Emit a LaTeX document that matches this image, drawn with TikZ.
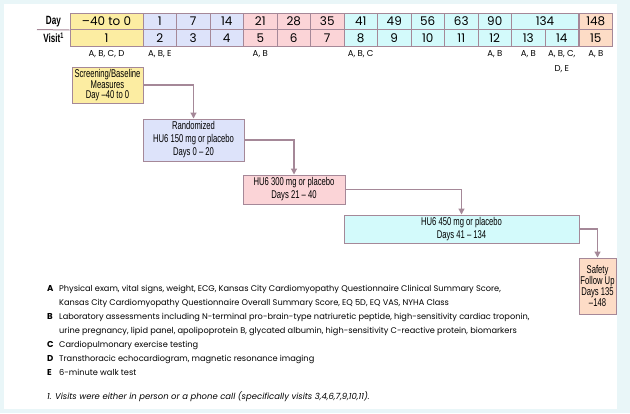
\documentclass[tikz,border=0pt]{standalone}
\usepackage{fontspec}
\setmainfont{Poppins}
\newfontfamily\condfont[FakeStretch=0.68]{Liberation Sans}
\usetikzlibrary{arrows.meta,positioning}
\definecolor{panelbg}{HTML}{E9F6F8}
\definecolor{frameline}{HTML}{A58898}
\definecolor{screenfill}{HTML}{FCEDA2}
\definecolor{lowfill}{HTML}{DDE3FA}
\definecolor{midfill}{HTML}{FBD4D7}
\definecolor{highfill}{HTML}{D3FAFB}
\definecolor{safefill}{HTML}{FDDCC6}

\begin{document}
\begin{tikzpicture}[x=1bp,y=-1bp,
	cell/.style={
		rectangle,
		draw=frameline,
		line width=1bp,
		inner sep=0pt,
		minimum width=33.5bp,
		minimum height=16.5bp,
		font=\fontsize{12}{12}\selectfont
	},
	rowlabel/.style={
		anchor=east,
		inner sep=0pt,
		font=\condfont\bfseries\fontsize{12}{12}\selectfont
	},
	acts/.style={
		align=center,
		inner sep=0pt,
		font=\fontsize{8.6}{14.5}\selectfont
	},
	phase/.style={
		rectangle,
		draw=frameline,
		line width=1bp,
		align=center,
		inner sep=1pt,
		font=\condfont\fontsize{11.3}{10}\selectfont
	},
	widephase/.style={
		phase,
		font=\condfont\fontsize{11.3}{13}\selectfont
	},
	arr/.style={
		draw=frameline,
		line width=1.2bp,
		-{Triangle[width=6bp,length=6bp]}
	},
	key/.style={
		anchor=base west,
		inner sep=0pt,
		font=\bfseries\fontsize{8.6}{8.6}\selectfont
	},
	note/.style={
		anchor=base west,
		inner sep=0pt,
		font=\fontsize{8.25}{8.25}\selectfont
	},
]

%% Background %%
\fill[panelbg] (0,0) rectangle (630,413);
\fill[white] (4,4) rectangle (617,409);

%% Day / Visit table %%
\node[rowlabel] (daylab) at (61,21.25) {Day};
\node[rowlabel] (visitlab) at (64,37.75) {Visit\textsuperscript{1}};
\coordinate (rowsep) at (37,29.5);

\node[cell, fill=screenfill, minimum width=73bp] (d0) at (106.5,21.25) {–40 to 0};
\node[cell, fill=screenfill, minimum width=73bp] (v0) at (106.5,37.75) {1};
\draw[frameline, line width=1bp] (rowsep) -- (d0.south west);

\foreach \dd/\vv/\cc [count=\i] in {1/2/lowfill, 7/3/lowfill, 14/4/lowfill,
	21/5/midfill, 28/6/midfill, 35/7/midfill,
	41/8/highfill, 49/9/highfill, 56/10/highfill, 63/11/highfill, 90/12/highfill}
{
	\node[cell, fill=\cc] (d\i) at (126.25+33.5*\i,21.25) {\dd};
	\node[cell, fill=\cc] (v\i) at (126.25+33.5*\i,37.75) {\vv};
}

\node[cell, fill=highfill, minimum width=67bp] (d12) at (545,21.25) {134};
\node[cell, fill=highfill] (v12) at (528.25,37.75) {13};
\node[cell, fill=highfill] (v13) at (561.75,37.75) {14};
\node[cell, fill=safefill] (d14) at (595.75,21.25) {148};
\node[cell, fill=safefill] (v14) at (595.75,37.75) {15};

% assessments per visit %
\node[acts, below=4bp of v0] (a0) {A, B, C, D};
\node[acts, below=4bp of v1] (a1) {A, B, E};
\node[acts, below=4bp of v4] (a4) {A, B};
\node[acts, below=4bp of v7] (a7) {A, B, C};
\node[acts, below=4bp of v11] (a11) {A, B};
\node[acts, below=4bp of v12] (a12) {A, B};
\node[acts, below=4bp of v13] (a13) {A, B, C,\\D, E};
\node[acts, below=4bp of v14] (a14) {A, B};

%% Study phases %%
\node[phase, fill=screenfill, minimum width=71bp, minimum height=36bp] (screen) at (107.5,85)
	{Screening/Baseline\\Measures\\Day –40 to 0};
\node[widephase, fill=lowfill, minimum width=101bp, minimum height=42bp] (rand) at (193.5,140)
	{Randomized\\HU6 150 mg or placebo\\Days 0 – 20};
\node[widephase, fill=midfill, minimum width=102bp, minimum height=29bp] (dose300) at (294,189.5)
	{HU6 300 mg or placebo\\Days 21 – 40};
\node[widephase, fill=highfill, minimum width=235bp, minimum height=28bp] (dose450) at (461.5,229)
	{HU6 450 mg or placebo\\Days 41 – 134};
\node[phase, fill=safefill, minimum width=37bp, minimum height=56bp] (safety) at (597.5,286)
	{Safety\\Follow Up\\Days 135\\–148};

\draw[arr] (screen) -| (rand);
\draw[arr] (rand) -| (dose300);
\draw[arr] (dose300) -| (dose450);
\draw[arr] (dose450) -| (safety);

%% Legend %%
\node[key] (kA) at (47,291) {A};
\node[note] (tA1) at (59,291) {Physical exam, vital signs, weight, ECG, Kansas City Cardiomyopathy Questionnaire Clinical Summary Score,};
\node[note] (tA2) at (59,305) {Kansas City Cardiomyopathy Questionnaire Overall Summary Score, EQ 5D, EQ VAS, NYHA Class};
\node[key] (kB) at (47,319) {B};
\node[note] (tB1) at (59,319) {Laboratory assessments including N-terminal pro-brain-type natriuretic peptide, high-sensitivity cardiac troponin,};
\node[note] (tB2) at (59,333) {urine pregnancy, lipid panel, apolipoprotein B, glycated albumin, high-sensitivity C-reactive protein, biomarkers};
\node[key] (kC) at (47,347) {C};
\node[note] (tC) at (59,347) {Cardiopulmonary exercise testing};
\node[key] (kD) at (47,361) {D};
\node[note] (tD) at (59,361) {Transthoracic echocardiogram, magnetic resonance imaging};
\node[key] (kE) at (47,375) {E};
\node[note] (tE) at (59,375) {6-minute walk test};

% footnote %
\node[note, font=\itshape\fontsize{8.5}{8.5}\selectfont] (foot) at (47,399)
	{1. Visits were either in person or a phone call (specifically visits 3,4,6,7,9,10,11).};

\useasboundingbox (0,0) rectangle (630,413);
\end{tikzpicture}
\end{document}
